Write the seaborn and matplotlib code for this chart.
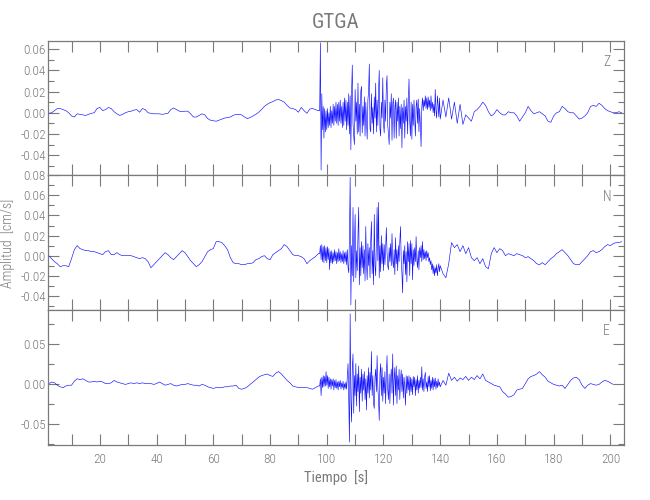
import numpy as np
import seaborn as sns
import matplotlib
matplotlib.use("Agg")
import matplotlib.pyplot as plt
from matplotlib.ticker import MultipleLocator, FuncFormatter

# Datos leidos a ojo del sismograma (unidades: 1e-3 cm/s)
# Tramo previo (t = 2..97 s, cada 1 s)
z_quiet = [-0.5, 0, 2, 4, 4, 3, 2, 0, -3, -4, -1, -1.5, -2, -2.5, -1.5, -0.5, 0, 4, 5, 2,
           3, 5, 4, 1, -1, -2.5, -1.5, 0, 1, 1.5, 2.5, 3, 0.5, 4, 3, 0, -0.5, -1, -1, -1,
           -1.5, -1, -0.5, 3, 4.5, 3, 1.5, 1, 1.5, 1.5, -1, -4, -4, -2.5, -1, -2, -5.5, -7, -7.5, -8,
           -7, -6, -5, -4.5, -4, -2.5, -1.5, -1.5, -2, -4, -5.5, -4.5, -3, -1.5, 0.5, 3, 6, 8, 9.5, 10.5,
           12, 12.5, 11.5, 10, 7, 4.5, 4, 3, 0.5, 5, 2, -0.5, 3.5, 4, 3, 2]
n_quiet = [0, -3, -6, -8, -11, -10, -10, -11, -3, 6, 10, 7, 6, 5, 5, 4, 4, 3, 2, 1,
           4, 5, 1, 1, 3, 1, 0, 0, 0, 0, -1, -2, -3, -2, -3, -6, -12, -9, -6, -3,
           0, 3, 1, -2, -4, -1, 2, 5, 3, -1, -5, -8, -11, -9, -6, -1, 4, 6, 7, 14,
           14, 13, 10, 6, -2, -7, -8, -8, -9, -9, -8, -8, -7, -4, -3, -1, 0, -3, -4, 1,
           3, 5, 7, 11, 9, 5, 1, 0, 0, -1, -3, -8, -5, -3, -1, 2]
e_quiet = [0, 2, 1, -2, -4, -5, -3, -2, -2, 3, 6, 5, 6, 4, 2, 2, 3, 2, 3, 2,
           0, 0, 1, 4, 2, 1, 0, -1, 0, 1, 0, 1, 0, 1, 0, 0, 0, -1, 0, 2,
           0, -2, -1, 0, -2, -3, -2, -1, -1, 0, -1, -2, -2, -3, -1, -2, -4, -5, -6, -5,
           -5, -5, -4, -4, -3, -3, -2, -6, -7, -6, -4, -1, 2, 5, 8, 10, 11, 12, 10, 9,
           13, 15, 12, 8, 4, 1, -3, -4, -5, -5, -5, -5, -6, -7, -5, -3]

# Llegada de ondas (t = 97.5..140 s, cada 0.25 s)
z_active = [2, 66, -54, 18, -16, 6, -24, 4, -18, 2, -16, 4, -14, 0, -12, 6, -14, 2, -10, 8,
            -12, 6, -8, 10, -10, 8, -12, 10, -8, 12, -10, 6, -14, 10, -12, 14, -8, 12, -16, 10,
            -12, 18, -20, 16, -35, 20, 45, -10, -22, -30, 22, -8, 10, -20, 28, -18, 8, -22, 20, 25,
            -19, 6, -12, 15, -22, 10, -8, -25, 12, 20, 46, -15, -18, 18, -10, 5, -20, 15, -5, 28,
            -18, 12, -12, 20, 40, -15, -22, 10, -5, 33, -10, -19, 12, -8, 25, 35, -12, -20, -30, 10,
            -5, 18, -26, 8, 14, -24, 5, 12, -24, 10, -8, 14, -22, 6, -15, 8, -33, 5, -10, 12,
            -24, 6, -8, 14, -20, 10, 32, -8, -22, 10, -25, 8, -12, 12, -5, -22, 6, 12, -10, 13,
            -18, 4, -12, -32, 5, 14, 2, 12, 6, 16, 4, 14, 3, 15, 5, 12, 2, 16, 4, 10,
            0, 8, -3, 22, 2, -5, 16, 8, -4, 14, -6]
n_active = [2, 10, -4, 11, -6, 9, -7, 10, -5, 8, -7, 9, -4, 7, -14, 4, -7, 5, -8, 3,
            -6, 6, -5, 4, -8, 3, -6, 7, -5, 4, -7, 2, -6, 5, -8, 3, -6, 4, -9, 6,
            -12, -17, 20, 78, -49, 10, -20, 48, -26, 12, 41, -22, 5, -15, 20, 48, -29, 8, -20, 14,
            -12, 10, -18, 6, -25, 29, -8, -24, 12, -10, 8, -22, 15, 34, -18, 5, -29, 41, -10, -20,
            15, 48, -5, 53, -22, 10, -16, 20, -8, 12, -15, 11, -9, 6, 28, 3, -10, -14, 8, -6,
            12, -10, 22, -5, -12, 6, -19, 18, -8, 6, -15, 10, -6, 14, 29, -4, -18, -37, 5, -8,
            10, -19, 4, -26, 14, -6, 12, -20, 15, -8, 12, -24, 6, -10, 8, -6, 19, -4, -12, 5,
            -14, 8, -2, 10, -6, 14, -4, 6, -3, 4, -5, 5, -2, 3, -6, -2, -9, -5, -14, -8,
            -18, -10, -20, -12, -17, -9, -20, -13, -8, -16, -10]
e_active = [-3, 6, -15, 8, -5, 10, -4, 9, -3, 15, -2, 10, -6, 8, -4, 6, -7, 5, -3, 6,
            -8, 4, -5, 5, -6, 2, -8, 3, -4, 4, -7, 1, -5, 3, -8, 0, -6, 2, -7, 10,
            25, -20, -73, 87, -20, -48, 20, 37, -37, 10, -15, 25, -28, 12, -10, 22, -35, 8, -12, 18,
            -22, 12, -8, 15, -20, 6, -33, 10, -12, 20, -18, 14, -8, 40, -15, 10, -25, -31, 8, 18,
            -10, 35, -5, -20, -46, 12, 25, -15, 20, -22, 8, -12, 15, -25, 10, 35, -8, -20, 12, -25,
            6, 18, -12, 37, -27, 5, 20, -15, 22, -25, 10, -8, 18, -20, 5, 17, -10, 12, -18, 8,
            -5, -27, 10, -12, 9, -8, 10, -15, 8, -10, 6, -14, 9, -4, 8, -15, 5, -8, 10, -12,
            4, -6, 8, -5, 21, -8, 6, -10, 8, 14, -6, 2, -10, 9, -4, 10, -9, 4, -6, 8,
            -8, 6, -4, 7, -7, 3, -5, 6, -3, 2, -4]

# Coda (t = 141..204 s, cada 1 s)
z_tail = [12, -4, 14, -6, 10, -10, 8, -11, -2, -5, -8, 1, 3, 6, 10, 7, 1, -3, -1, 3,
          0, -2, -2, 1, 0, 0, -3, -8, -4, 0, 6, 2, -1, 0, 1, -1, -3, -8, -9, -3,
          0, 1, 6, 4, 1, 0, 0, -3, -6, -5, -3, 0, 6, 7, 6, 9, 7, 4, 2, 1,
          0, 0, 1, 0]
n_tail = [-18, -22, -8, 13, 8, 11, 4, 10, 2, 8, -2, -5, -2, -8, -3, -11, -13, 2, 8, 3,
          7, 5, 0, 2, 1, 0, 2, 1, 0, -2, -1, -3, -5, -8, -9, -7, -9, -6, -3, -1,
          2, 4, 6, 3, 0, -4, -8, -9, -9, -6, -3, 0, 4, 5, 3, 4, 6, 9, 11, 10,
          12, 13, 13, 14]
e_tail = [4, -2, 13, 4, 8, 3, 7, 5, 9, 4, 8, 5, 10, 6, 12, 4, 2, 0, -2, -3,
          -4, -10, -13, -17, -16, -14, -8, -7, -6, 0, 6, 9, 10, 12, 15, 11, 8, 3, 1, -1,
          -2, -3, -2, -6, -1, 4, 7, 8, 5, -2, -6, -2, 0, -1, -2, -1, 2, 4, 3, 1,
          -1]

componentes = ["Z", "N", "E"]
limites_y = [(-0.059, 0.068), (-0.054, 0.08), (-0.076, 0.092)]
paso_y = [(0.02, 0.01), (0.02, 0.01), (0.05, 0.025)]

t_quiet = np.arange(2, 98)
t_active = 97.5 + 0.25 * np.arange(len(z_active))
t_tail = np.arange(141, 205)

trazas = []
for q, a, c in [(z_quiet, z_active, z_tail), (n_quiet, n_active, n_tail), (e_quiet, e_active, e_tail)]:
    t = np.concatenate([t_quiet, t_active, t_tail[:len(c)]])
    v = np.concatenate([q, a, c]) * 1e-3
    trazas.append((t, v))

sns.set_style("ticks")
plt.rcParams["font.family"] = ["Roboto Condensed", "Roboto", "DejaVu Sans"]
plt.rcParams["font.weight"] = "light"
gris = "#7a7a7a"

fig, axes = plt.subplots(3, 1, sharex=True, figsize=(6.5, 5), dpi=100)
fig.subplots_adjust(left=0.0738, right=0.96, top=0.9186, bottom=0.111, hspace=0)

for ax, (t, v), comp, lim, (mayor, menor) in zip(axes, trazas, componentes, limites_y, paso_y):
    sns.lineplot(x=t, y=v, ax=ax, color="#1010ff", lw=0.45, estimator=None, sort=False)
    ax.set_ylim(*lim)
    ax.set_xlim(1.7, 204.8)
    ax.yaxis.set_major_locator(MultipleLocator(mayor))
    ax.yaxis.set_minor_locator(MultipleLocator(menor))
    ax.xaxis.set_major_locator(MultipleLocator(20))
    ax.xaxis.set_minor_locator(MultipleLocator(10))
    ax.yaxis.set_major_formatter(FuncFormatter(lambda y, p: "%.2f" % y if abs(y) > 1e-9 else "0.00"))
    ax.tick_params(which="both", direction="in", top=True, right=True, color=gris,
                   labelcolor=gris, labelsize=9.5, width=0.8)
    ax.tick_params(axis="y", which="major", length=8, pad=1.5)
    ax.tick_params(axis="y", which="minor", length=4)
    ax.tick_params(axis="x", which="both", length=8, pad=6)
    for s in ax.spines.values():
        s.set_color(gris)
        s.set_linewidth(0.9)
    ax.set_xlabel("")
    ax.set_ylabel("")
    ax.text(0.97, 0.84, comp, transform=ax.transAxes, ha="center", va="center",
            color=gris, fontsize=10)

axes[-1].set_xlabel("Tiempo  [s]", color=gris, fontsize=10.5, labelpad=3)
axes[0].set_title("GTGA", color=gris, fontsize=15, pad=9)
fig.text(0.011, 0.514, "Amplitud  [cm/s]", rotation=90, ha="center", va="center",
         color=gris, fontsize=10)

fig.savefig("out.png", dpi=100)
